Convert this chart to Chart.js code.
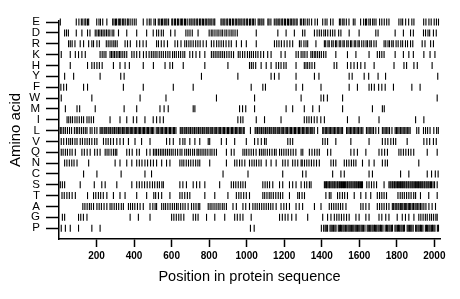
<!DOCTYPE html>
<html>
<head>
<meta charset="utf-8">
<script src="https://cdn.jsdelivr.net/npm/chart.js@4.4.1/dist/chart.umd.min.js"></script>
<style>
  html, body { margin: 0; padding: 0; background: #fff; }
  #wrap { width: 460px; height: 299px; }
</style>
</head>
<body>
<div id="wrap"><canvas id="aa-map" width="460" height="299"></canvas></div>
<script>
// rows from top to bottom of the plot
const AMINO_ROWS = ["E", "D", "R", "K", "H", "Y", "F", "W", "M", "I", "L", "V", "Q", "N", "C", "S", "T", "A", "G", "P"];
const X_TICKS = [200, 400, 600, 800, 1000, 1200, 1400, 1600, 1800, 2000];
const SEQ_LENGTH = 2030;

// residue positions of each amino acid
const E_POS = [7, 92, 106, 119, 127, 138, 143, 152, 158, 201, 213, 221, 233, 255, 286, 293, 301, 306, 316, 323, 329, 339, 345, 353, 364, 369, 379, 390, 401, 411, 449, 469, 481, 490, 506, 514, 529, 537, 546, 552, 561, 569, 575, 584, 601, 606, 616, 621, 631, 636, 646, 653, 659, 669, 674, 683, 694, 703, 709, 719, 724, 734, 739, 749, 755, 764, 770, 779, 785, 794, 800, 809, 815, 825, 830, 863, 869, 878, 884, 894, 899, 909, 914, 924, 929, 939, 945, 954, 960, 969, 975, 985, 990, 1000, 1005, 1015, 1021, 1030, 1036, 1045, 1061, 1067, 1076, 1082, 1091, 1113, 1119, 1129, 1147, 1156, 1162, 1171, 1177, 1187, 1192, 1202, 1207, 1217, 1223, 1232, 1238, 1247, 1253, 1263, 1269, 1286, 1293, 1303, 1311, 1323, 1333, 1346, 1364, 1377, 1405, 1418, 1428, 1447, 1460, 1494, 1501, 1512, 1519, 1531, 1545, 1568, 1577, 1607, 1623, 1633, 1639, 1651, 1659, 1671, 1679, 1689, 1708, 1720, 1733, 1746, 1758, 1811, 1822, 1831, 1847, 1863, 1880, 1891, 1943, 1955, 1971, 1983, 1999, 2011, 2022];
const D_POS = [30, 40, 50, 92, 122, 152, 165, 193, 202, 211, 218, 227, 235, 244, 253, 262, 271, 283, 292, 317, 361, 414, 467, 502, 520, 531, 545, 556, 595, 618, 676, 687, 698, 710, 741, 800, 811, 820, 831, 842, 852, 863, 872, 884, 894, 906, 917, 927, 938, 950, 1051, 1166, 1210, 1254, 1298, 1310, 1361, 1375, 1387, 1398, 1411, 1420, 1432, 1446, 1458, 1470, 1490, 1502, 1546, 1599, 1688, 1700, 1791, 1835, 1873, 1888, 1942, 1953, 1966, 1975, 1995, 2010];
const R_POS = [51, 60, 70, 85, 113, 131, 158, 175, 184, 202, 215, 252, 262, 272, 282, 292, 300, 310, 352, 365, 380, 414, 430, 448, 465, 520, 530, 545, 560, 578, 618, 632, 650, 670, 680, 692, 703, 715, 728, 740, 752, 768, 785, 812, 825, 840, 852, 864, 876, 890, 905, 918, 945, 972, 998, 1051, 1148, 1160, 1172, 1185, 1200, 1215, 1230, 1245, 1281, 1290, 1305, 1316, 1325, 1369, 1414, 1421, 1433, 1440, 1453, 1461, 1473, 1480, 1493, 1501, 1513, 1520, 1533, 1541, 1553, 1560, 1573, 1581, 1593, 1600, 1613, 1624, 1636, 1644, 1656, 1664, 1678, 1690, 1732, 1741, 1753, 1761, 1773, 1781, 1796, 1807, 1821, 1831, 1846, 1857, 1873, 1885, 1935, 1950, 1980, 1995];
const K_POS = [12, 60, 87, 104, 122, 140, 219, 230, 240, 250, 272, 280, 288, 296, 305, 314, 322, 330, 340, 350, 361, 388, 400, 414, 430, 450, 465, 480, 492, 502, 512, 522, 534, 545, 556, 568, 580, 591, 605, 615, 625, 637, 648, 660, 670, 697, 712, 730, 750, 777, 812, 822, 832, 842, 852, 862, 872, 882, 894, 906, 918, 930, 955, 965, 978, 990, 1004, 1015, 1025, 1036, 1048, 1060, 1075, 1090, 1112, 1130, 1183, 1205, 1263, 1275, 1290, 1300, 1310, 1322, 1342, 1350, 1360, 1368, 1378, 1388, 1398, 1410, 1422, 1475, 1537, 1582, 1652, 1696, 1708, 1720, 1732, 1791, 1835, 1864, 1888, 1944, 1977, 2003];
const H_POS = [60, 152, 175, 188, 202, 215, 230, 290, 325, 352, 375, 449, 503, 565, 591, 605, 662, 777, 900, 1015, 1025, 1035, 1048, 1077, 1104, 1130, 1157, 1170, 1183, 1198, 1210, 1263, 1307, 1316, 1325, 1336, 1348, 1362, 1466, 1480, 1537, 1555, 1572, 1590, 1608, 1630, 1679, 1785, 1838, 1852, 1891, 1909, 1988];
const Y_POS = [30, 78, 219, 329, 347, 759, 953, 1130, 1148, 1172, 1263, 1361, 1385, 1546, 1562, 1626, 1650, 1700, 1740, 2018];
const F_POS = [10, 25, 40, 131, 152, 343, 449, 609, 715, 1024, 1086, 1100, 1263, 1298, 1396, 1546, 1590, 1652, 1665, 1680, 1703, 1720, 1738, 1782, 1880, 1924];
const W_POS = [12, 175, 432, 570, 839, 1042, 1290, 1396, 1410, 1430, 1511, 2015];
const M_POS = [34, 96, 110, 193, 347, 414, 538, 560, 582, 715, 724, 962, 978, 995, 1042, 1210, 1245, 1307, 1352, 1387, 1511, 1670, 1723, 1733];
const I_POS = [43, 52, 62, 72, 85, 96, 108, 120, 131, 149, 160, 172, 184, 272, 325, 361, 396, 414, 458, 502, 520, 538, 556, 953, 968, 980, 1051, 1095, 1183, 1307, 1320, 1332, 1345, 1360, 1375, 1395, 1414, 1537, 1599, 1705, 1900, 1944];
const L_POS = [7, 15, 25, 34, 45, 56, 67, 82, 92, 100, 110, 120, 130, 140, 149, 166, 176, 190, 202, 219, 225, 233, 241, 246, 254, 262, 267, 275, 283, 288, 296, 304, 309, 317, 324, 330, 338, 345, 351, 359, 366, 372, 380, 387, 393, 401, 408, 414, 422, 429, 435, 443, 450, 456, 464, 471, 477, 485, 492, 498, 505, 518, 526, 531, 539, 547, 552, 560, 568, 573, 581, 589, 594, 602, 610, 615, 623, 646, 651, 659, 667, 672, 680, 688, 693, 701, 709, 714, 722, 730, 735, 743, 751, 756, 764, 772, 777, 785, 793, 798, 806, 814, 819, 827, 835, 840, 848, 856, 861, 869, 877, 882, 890, 898, 903, 911, 919, 924, 932, 940, 945, 953, 961, 966, 974, 982, 987, 1020, 1045, 1050, 1058, 1066, 1071, 1079, 1087, 1092, 1100, 1108, 1113, 1121, 1129, 1134, 1142, 1150, 1155, 1163, 1171, 1176, 1184, 1192, 1197, 1205, 1213, 1218, 1226, 1234, 1239, 1247, 1255, 1260, 1268, 1276, 1281, 1289, 1297, 1302, 1310, 1318, 1323, 1331, 1339, 1344, 1352, 1360, 1378, 1405, 1411, 1419, 1426, 1433, 1440, 1447, 1454, 1461, 1468, 1475, 1483, 1490, 1497, 1504, 1511, 1532, 1539, 1546, 1553, 1560, 1568, 1575, 1582, 1589, 1596, 1604, 1611, 1619, 1638, 1646, 1653, 1661, 1668, 1676, 1688, 1703, 1723, 1731, 1738, 1746, 1753, 1761, 1774, 1791, 1798, 1805, 1812, 1820, 1827, 1834, 1842, 1849, 1856, 1864, 1871, 1906, 1917, 1942, 1953, 1964, 1977, 1997, 2012, 2021];
const V_POS = [12, 25, 40, 52, 62, 72, 85, 96, 113, 125, 138, 150, 162, 175, 190, 202, 237, 250, 262, 275, 290, 308, 325, 343, 370, 405, 440, 485, 573, 590, 609, 644, 660, 671, 697, 724, 750, 795, 803, 865, 892, 936, 998, 1042, 1060, 1078, 1095, 1104, 1219, 1232, 1245, 1405, 1418, 1431, 1475, 1555, 1652, 1723, 1738, 1752, 1768, 1782, 1794, 1855, 1944, 1960, 1975, 1995, 2010];
const Q_POS = [12, 22, 34, 45, 58, 70, 87, 122, 135, 150, 166, 190, 204, 219, 246, 256, 266, 278, 290, 300, 308, 361, 375, 390, 414, 428, 467, 485, 503, 512, 520, 530, 540, 549, 558, 568, 578, 588, 598, 608, 620, 632, 645, 655, 670, 680, 690, 700, 712, 722, 735, 742, 752, 762, 772, 782, 793, 805, 815, 827, 839, 892, 918, 933, 980, 990, 1000, 1012, 1024, 1036, 1050, 1068, 1078, 1088, 1098, 1110, 1122, 1135, 1148, 1157, 1175, 1186, 1198, 1210, 1222, 1235, 1248, 1262, 1290, 1299, 1334, 1348, 1362, 1375, 1387, 1431, 1448, 1555, 1572, 1590, 1635, 1705, 1720, 1735, 1750, 1811, 1822, 1835, 1848, 1862, 1875, 1890, 1962, 2015];
const N_POS = [30, 42, 55, 68, 80, 96, 158, 299, 325, 361, 388, 414, 428, 442, 458, 472, 488, 503, 520, 547, 573, 591, 644, 655, 665, 678, 690, 702, 715, 728, 740, 750, 803, 892, 936, 948, 962, 975, 990, 1015, 1028, 1040, 1052, 1065, 1077, 1104, 1130, 1157, 1192, 1205, 1220, 1245, 1258, 1272, 1290, 1296, 1308, 1320, 1332, 1345, 1358, 1372, 1387, 1449, 1462, 1475, 1520, 1532, 1545, 1558, 1570, 1582, 1617, 1652, 1679, 1723, 1738, 1750, 1917];
const C_POS = [131, 202, 331, 458, 493, 874, 1007, 1192, 1298, 1316, 1458, 1502, 1520, 1652, 1670, 1820, 1864, 1962, 1985, 2005, 2020];
const S_POS = [7, 18, 30, 113, 188, 228, 246, 308, 388, 414, 428, 442, 456, 470, 484, 498, 510, 524, 535, 548, 556, 644, 660, 679, 715, 733, 750, 777, 856, 918, 930, 942, 955, 968, 980, 993, 1086, 1098, 1110, 1122, 1139, 1175, 1192, 1228, 1245, 1263, 1290, 1308, 1320, 1334, 1343, 1414, 1419, 1425, 1428, 1434, 1440, 1443, 1449, 1455, 1460, 1466, 1470, 1476, 1483, 1487, 1494, 1499, 1505, 1510, 1516, 1521, 1527, 1534, 1538, 1545, 1550, 1556, 1561, 1567, 1573, 1578, 1584, 1589, 1596, 1600, 1606, 1612, 1617, 1640, 1652, 1665, 1678, 1692, 1732, 1758, 1764, 1769, 1776, 1780, 1787, 1791, 1797, 1804, 1808, 1815, 1820, 1826, 1831, 1837, 1842, 1849, 1853, 1860, 1864, 1871, 1876, 1882, 1887, 1893, 1899, 1904, 1911, 1915, 1922, 1927, 1933, 1938, 1945, 1949, 1956, 1961, 1967, 1972, 1979, 1985, 1993, 2001, 2015];
const T_POS = [16, 28, 42, 55, 70, 87, 152, 184, 196, 210, 222, 236, 255, 290, 325, 352, 414, 467, 505, 515, 530, 547, 591, 644, 656, 670, 684, 697, 777, 830, 900, 945, 958, 970, 984, 998, 1015, 1086, 1096, 1108, 1120, 1130, 1142, 1155, 1168, 1180, 1192, 1228, 1272, 1281, 1295, 1308, 1422, 1440, 1449, 1484, 1496, 1510, 1522, 1537, 1573, 1608, 1635, 1661, 1696, 1708, 1720, 1732, 1745, 1806, 1818, 1829, 1840, 1852, 1864, 1876, 1890, 1900, 1926, 1970, 2015];
const A_POS = [127, 138, 150, 162, 172, 184, 202, 214, 226, 240, 255, 272, 282, 294, 306, 318, 332, 343, 370, 381, 392, 404, 418, 432, 449, 485, 500, 512, 520, 547, 558, 568, 580, 592, 604, 615, 626, 635, 648, 660, 672, 688, 706, 718, 730, 742, 750, 795, 805, 815, 826, 837, 848, 858, 870, 880, 892, 927, 945, 980, 995, 1015, 1033, 1045, 1056, 1068, 1080, 1092, 1104, 1116, 1128, 1140, 1157, 1183, 1198, 1212, 1228, 1263, 1280, 1298, 1361, 1396, 1440, 1452, 1464, 1476, 1488, 1500, 1512, 1529, 1608, 1620, 1635, 1652, 1696, 1708, 1720, 1732, 1745, 1758, 1776, 1783, 1791, 1797, 1806, 1811, 1819, 1826, 1832, 1840, 1847, 1853, 1861, 1868, 1874, 1882, 1889, 1897, 1903, 1911, 1918, 1926, 1934, 1944, 1955, 1971, 1988, 2006];
const G_POS = [18, 30, 104, 116, 130, 149, 379, 423, 485, 600, 612, 625, 638, 650, 665, 715, 728, 741, 786, 830, 883, 936, 950, 965, 980, 1024, 1175, 1190, 1205, 1220, 1240, 1263, 1325, 1405, 1431, 1449, 1467, 1480, 1492, 1505, 1518, 1532, 1546, 1582, 1599, 1635, 1652, 1705, 1720, 1741, 1758, 1802, 1829, 1846, 1864, 1891, 1917, 1928, 1940, 1952, 1962, 1975, 1985, 1996, 2008, 2015];
const P_POS = [12, 34, 60, 104, 175, 219, 1020, 1040, 1398, 1410, 1418, 1424, 1431, 1444, 1450, 1456, 1463, 1470, 1476, 1488, 1494, 1500, 1506, 1513, 1519, 1526, 1533, 1540, 1546, 1552, 1559, 1565, 1571, 1578, 1584, 1590, 1597, 1603, 1610, 1616, 1622, 1630, 1642, 1648, 1655, 1661, 1668, 1674, 1681, 1687, 1693, 1700, 1706, 1713, 1719, 1726, 1738, 1745, 1751, 1758, 1764, 1771, 1777, 1790, 1796, 1803, 1809, 1815, 1822, 1828, 1835, 1841, 1855, 1861, 1868, 1874, 1880, 1887, 1900, 1906, 1913, 1919, 1926, 1932, 1939, 1952, 1958, 1964, 1971, 1977, 1984, 1990, 1997, 2003, 2016, 2022];

const POS_BY_ROW = [E_POS, D_POS, R_POS, K_POS, H_POS, Y_POS, F_POS, W_POS, M_POS, I_POS,
  L_POS, V_POS, Q_POS, N_POS, C_POS, S_POS, T_POS, A_POS, G_POS, P_POS];

const FONT = '"Liberation Sans", Arial, Helvetica, sans-serif';
const TOP_ROW = AMINO_ROWS.length - 1;

// one dataset per amino acid; y value counts up from the bottom row (P = 0)
const datasets = AMINO_ROWS.map((aa, i) => ({
  label: aa,
  data: POS_BY_ROW[i].map((pos) => ({ x: pos, y: TOP_ROW - i })),
  clip: false,
}));

new Chart(document.getElementById("aa-map"), {
  type: "scatter",
  data: { datasets },
  options: {
    responsive: false,
    animation: false,
    devicePixelRatio: 1,
    layout: { padding: { left: 0, right: 20, top: 21, bottom: 0 } },
    plugins: { legend: { display: false }, tooltip: { enabled: false } },
    elements: {
      point: {
        pointStyle: "line",
        rotation: 90,
        radius: 3.5,
        hoverRadius: 3.5,
        borderWidth: 1.1,
        borderColor: "#000",
        backgroundColor: "#000",
      },
    },
    scales: {
      x: {
        type: "linear",
        min: 0,
        max: SEQ_LENGTH,
        afterBuildTicks: (scale) => { scale.ticks = X_TICKS.map((v) => ({ value: v })); },
        afterFit: (scale) => { scale.height = 60; },
        grid: { drawOnChartArea: false, drawTicks: true, tickLength: 8, tickWidth: 1.5, tickColor: "#000" },
        border: { display: true, color: "#000", width: 1.5 },
        ticks: {
          color: "#000",
          font: { family: FONT, size: 10, weight: "bold" },
          padding: 3,
          maxRotation: 0,
          autoSkip: false,
          callback: (v) => String(v),
        },
        title: {
          display: true,
          text: "Position in protein sequence",
          color: "#000",
          font: { family: FONT, size: 14.5 },
          padding: { top: 0, bottom: 13 },
        },
      },
      y: {
        type: "linear",
        min: -1,
        max: TOP_ROW + 0.1,
        afterBuildTicks: (scale) => { scale.ticks = AMINO_ROWS.map((_, i) => ({ value: i })); },
        afterFit: (scale) => { scale.width = 59; },
        grid: { drawOnChartArea: false, drawTicks: true, tickLength: 13, tickWidth: 1.5, tickColor: "#000" },
        border: { display: true, color: "#000", width: 1.5 },
        ticks: {
          color: "#000",
          font: { family: FONT, size: 11.5 },
          padding: 6,
          autoSkip: false,
          callback: (v) => AMINO_ROWS[TOP_ROW - v],
        },
        title: {
          display: true,
          text: "Amino acid",
          color: "#000",
          font: { family: FONT, size: 15 },
          padding: { top: 7, bottom: 0 },
        },
      },
    },
  },
});
</script>
</body>
</html>
